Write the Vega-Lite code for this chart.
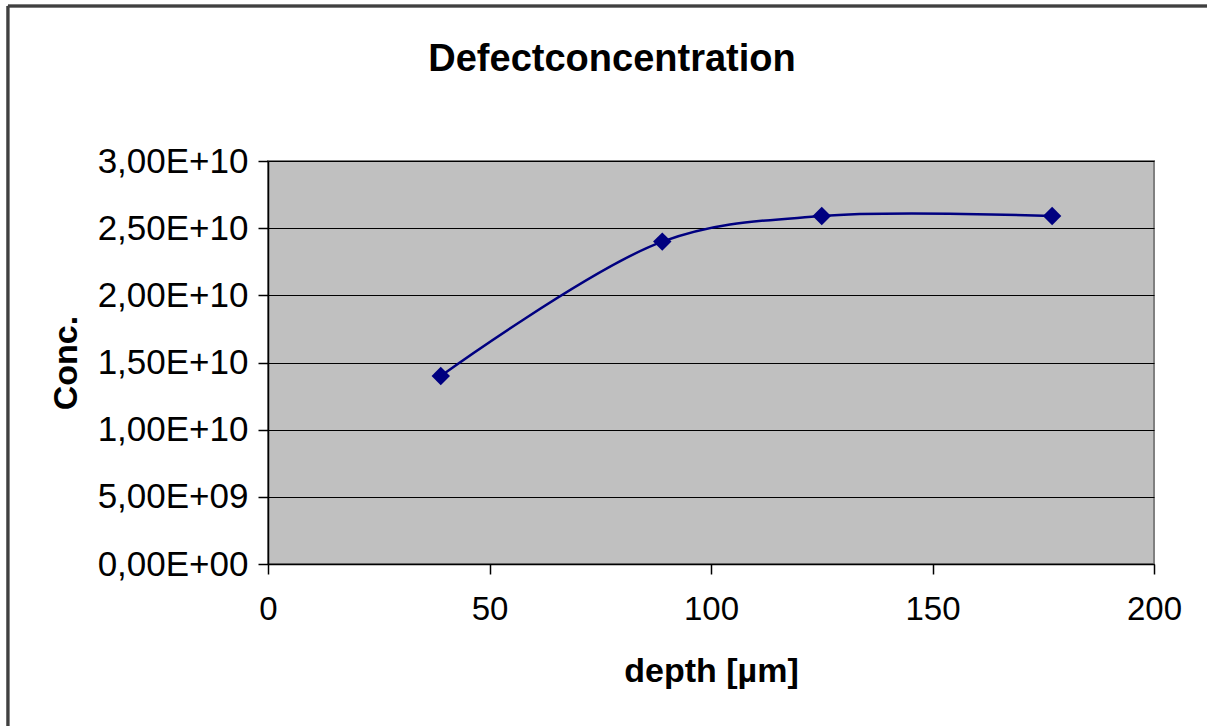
{
  "$schema": "https://vega.github.io/schema/vega-lite/v6.json",
  "width": 886,
  "height": 403,
  "autosize": "none",
  "padding": {"left": 268, "top": 161, "right": 53, "bottom": 162},
  "background": "white",
  "title": {
    "text": "Defectconcentration",
    "font": "Liberation Sans",
    "fontSize": 38,
    "fontWeight": "bold",
    "color": "black",
    "anchor": "middle",
    "dx": -99,
    "offset": -74
  },
  "data": {
    "values": [
      {"depth": 39, "conc": 1.4e10},
      {"depth": 89, "conc": 2.4e10},
      {"depth": 125, "conc": 2.59e10},
      {"depth": 177, "conc": 2.59e10}
    ]
  },
  "layer": [
    {
      "mark": {"type": "rule", "color": "#404040", "strokeWidth": 2.5},
      "encoding": {
        "x": {"datum": -58.7, "type": "quantitative"},
        "y": {"datum": 4.154e10, "type": "quantitative"},
        "y2": {"datum": -2e10}
      }
    },
    {
      "mark": {"type": "rule", "color": "#404040", "strokeWidth": 2.5},
      "encoding": {
        "x": {"datum": -58.7, "type": "quantitative"},
        "x2": {"datum": 260},
        "y": {"datum": 4.154e10, "type": "quantitative"}
      }
    },
    {
      "mark": {"type": "line", "color": "#000080", "strokeWidth": 2.5, "interpolate": "catmull-rom"},
      "encoding": {
        "x": {
          "field": "depth", "type": "quantitative",
          "scale": {"domain": [0, 200], "nice": false},
          "axis": {
            "title": "depth [µm]", "values": [0, 50, 100, 150, 200],
            "grid": false, "domainColor": "black", "domainWidth": 1.5,
            "tickColor": "black", "tickSize": 10, "tickWidth": 1.5,
            "labelFont": "Liberation Sans", "labelFontSize": 33, "labelColor": "black",
            "labelPadding": 19, "labelFlush": false,
            "titleFont": "Liberation Sans", "titleFontSize": 34, "titleFontWeight": "bold",
            "titleColor": "black", "titlePadding": 28
          }
        },
        "y": {
          "field": "conc", "type": "quantitative",
          "scale": {"domain": [0, 3e10], "nice": false},
          "axis": {
            "title": "Conc.", "values": [0, 5e9, 1e10, 1.5e10, 2e10, 2.5e10, 3e10],
            "labelExpr": "replace(replace(replace(format(datum.value, '.2e'), '.', ','), 'e+', 'E+'), /E\\+(\\d)$/, 'E+0$1')",
            "grid": true, "gridColor": "black", "gridWidth": 1, "gridOpacity": 1,
            "domainColor": "black", "domainWidth": 1.5,
            "tickColor": "black", "tickSize": 10, "tickWidth": 1.5,
            "labelFont": "Liberation Sans", "labelFontSize": 35, "labelColor": "black",
            "labelPadding": 10, "labelFlush": false,
            "titleFont": "Liberation Sans", "titleFontSize": 34, "titleFontWeight": "bold",
            "titleColor": "black", "titlePadding": 14
          }
        }
      }
    },
    {
      "mark": {"type": "point", "shape": "diamond", "filled": true, "color": "#000080", "size": 340, "opacity": 1},
      "encoding": {
        "x": {"field": "depth", "type": "quantitative"},
        "y": {"field": "conc", "type": "quantitative"}
      }
    }
  ],
  "config": {
    "view": {"fill": "#C0C0C0", "stroke": "#808080", "strokeWidth": 2}
  }
}
